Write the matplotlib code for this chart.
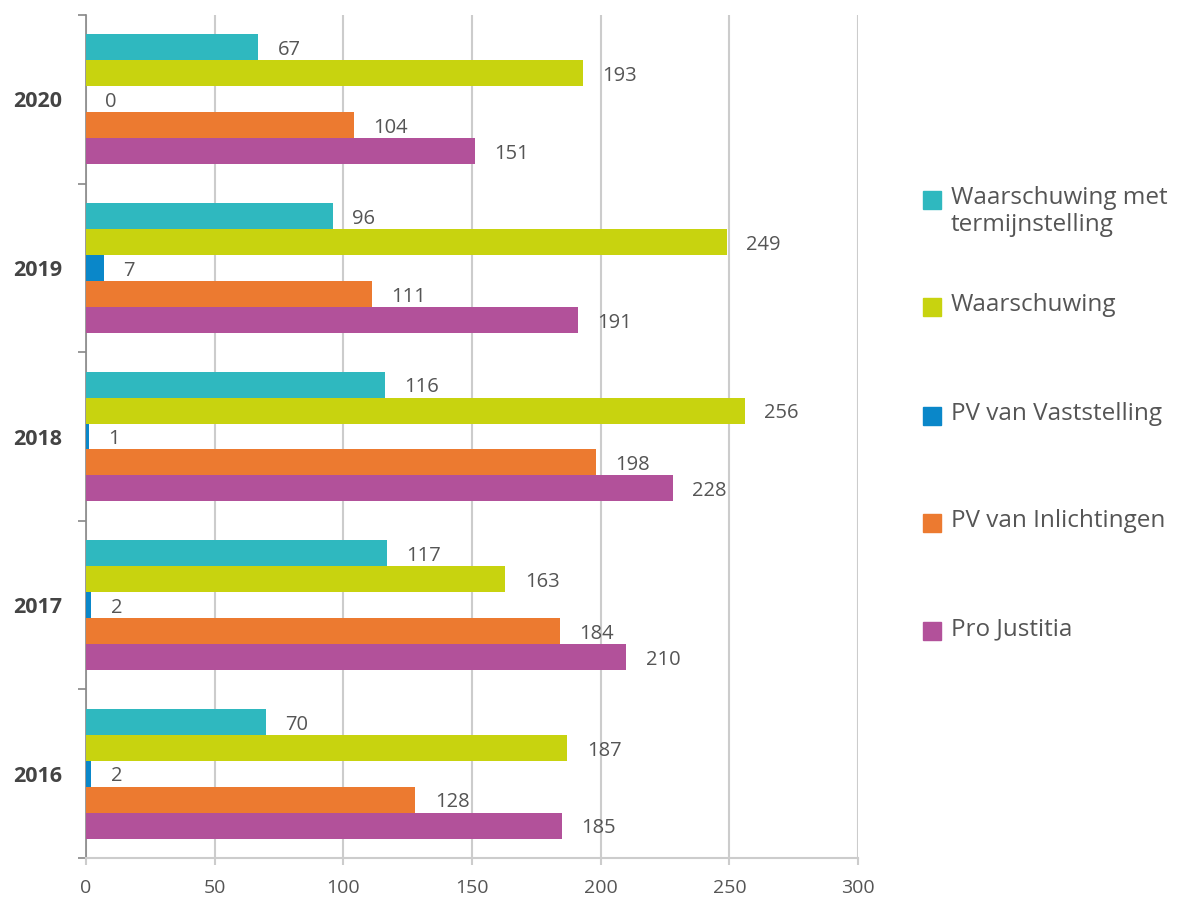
import matplotlib.pyplot as plt
import numpy as np
from matplotlib.patches import Rectangle

plt.rcParams['font.family'] = ['Open Sans', 'DejaVu Sans']

years = ['2016', '2017', '2018', '2019', '2020']
series = ['Waarschuwing met\ntermijnstelling', 'Waarschuwing', 'PV van Vaststelling',
          'PV van Inlichtingen', 'Pro Justitia']
waarsch_termijn = [70, 117, 116, 96, 67]
waarschuwing = [187, 163, 256, 249, 193]
pv_vaststelling = [2, 2, 1, 7, 0]
pv_inlichtingen = [128, 184, 198, 111, 104]
pro_justitia = [185, 210, 228, 191, 151]
colors = ['#2FB8BF', '#C8D30F', '#0A87C9', '#EC7A30', '#B2519A']

values = [waarsch_termijn, waarschuwing, pv_vaststelling, pv_inlichtingen, pro_justitia]

fig = plt.figure(figsize=(11.83, 8.99), dpi=100)
ax = fig.add_axes([0.0727, 0.0456, 0.6526, 0.9377])

y = np.arange(len(years))
h = 0.154
for i, (vals, c) in enumerate(zip(values, colors)):
    pos = y + (2 - i) * h
    ax.barh(pos, vals, height=h, color=c, zorder=3)
    for p, v in zip(pos, vals):
        ax.annotate(str(v), (v, p), xytext=(14, -2), textcoords='offset points',
                    ha='left', va='center', fontsize=14.5, color='#555555')

ax.set_xlim(0, 300)
ax.set_ylim(-0.5, 4.5)
ax.set_xticks(np.arange(0, 301, 50))
ax.xaxis.grid(True, color='#CCCCCC', linewidth=1.5, zorder=0)
ax.set_yticks(y)
ax.set_yticklabels(years, fontweight='bold', fontsize=15.5, color='#444444')
ax.set_yticks(np.arange(-0.5, 5, 1), minor=True)
ax.tick_params(axis='y', which='major', length=0, pad=17)
ax.tick_params(axis='y', which='minor', length=6, color='#888888', width=1.2)
ax.tick_params(axis='x', length=5, color='#CCCCCC', width=1.5, labelsize=14,
               labelcolor='#555555', pad=10)
for s in ['top', 'right']:
    ax.spines[s].set_visible(False)
ax.spines['left'].set_color('#888888')
ax.spines['left'].set_linewidth(1.2)
ax.spines['bottom'].set_color('#CCCCCC')
ax.spines['bottom'].set_linewidth(1.5)

# legend drawn by hand so the square sits on the first line
W, H = 1183, 899
leg_y = [200, 307, 416, 523, 631]
for name, c, ly in zip(series, colors, leg_y):
    fig.patches.append(Rectangle((923 / W, 1 - (ly + 9) / H), 18 / W, 18 / H,
                                 transform=fig.transFigure, color=c))
    fig.text(951 / W, 1 - (ly - 14) / H, name, fontsize=17.5, color='#555555',
             va='top', ha='left', linespacing=1.15)

fig.savefig('out.png', dpi=100)
